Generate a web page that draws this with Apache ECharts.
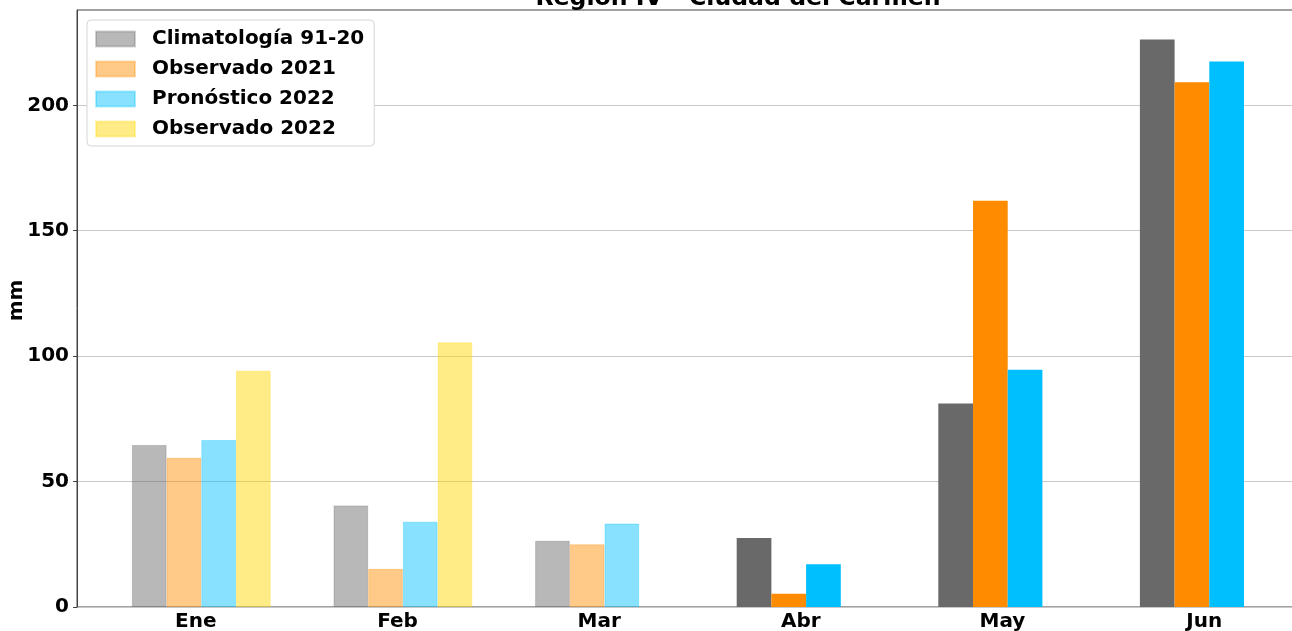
<!DOCTYPE html>
<html>
<head>
<meta charset="utf-8">
<script src="https://cdn.jsdelivr.net/npm/echarts@6/dist/echarts.min.js"></script>
<style>
  html, body { margin: 0; padding: 0; background: #fff; }
  #chartDiv { width: 1292px; height: 631px; }
</style>
</head>
<body>
<div id="chartDiv"></div>
<script>
// Monthly precipitation (mm)
const months = ['Ene', 'Feb', 'Mar', 'Abr', 'May', 'Jun'];
const fadedMonths = ['Ene', 'Feb', 'Mar'];
const climatologia = [64.6, 40.5, 26.4, 27.5, 81.1, 226.2];
const observado2021 = [59.5, 15.2, 25.0, 5.3, 162.0, 209.2];
const pronostico2022 = [66.6, 34.0, 33.3, 17.0, 94.6, 217.5];
const observado2022 = [94.2, 105.5, null, null, null, null];
const yTicks = [0, 50, 100, 150, 200];

const font = 'DejaVu Sans';
const yMax = 238;

// name, data, base colour (rgb)
const seriesDefs = [
  ['Climatología 91-20', climatologia, [105, 105, 105]],
  ['Observado 2021', observado2021, [255, 140, 0]],
  ['Pronóstico 2022', pronostico2022, [0, 191, 255]],
  ['Observado 2022', observado2022, [255, 215, 0]]
];

const rgba = (c, a) => `rgba(${c[0]},${c[1]},${c[2]},${a})`;

const chart = echarts.init(document.getElementById('chartDiv'));

const series = seriesDefs.map(([name, values, c]) => ({
  name: name,
  type: 'bar',
  xAxisIndex: 1,
  yAxisIndex: 1,
  barWidth: 34.7,
  barGap: '0%',
  itemStyle: { color: rgba(c, 0.47), borderColor: rgba(c, 0.3), borderWidth: 1 },
  data: values.map((v, i) => fadedMonths.includes(months[i])
    ? v
    : { value: v, itemStyle: { color: rgba(c, 1), borderWidth: 0 } })
}));

const options = {
  animation: false,
  textStyle: { fontFamily: font },
  title: {
    text: 'Región IV - Ciudad del Carmen',
    left: 733,
    textAlign: 'center',
    top: -18,
    textStyle: { fontFamily: font, fontWeight: 'bold', fontSize: 23.6, color: '#000' }
  },
  legend: {
    orient: 'vertical',
    left: 87,
    top: 20,
    icon: 'rect',
    itemWidth: 39,
    itemHeight: 15,
    itemGap: 10,
    padding: [9, 10, 7, 8],
    backgroundColor: '#fff',
    borderColor: '#d5d5d5',
    borderWidth: 1,
    borderRadius: 4,
    data: seriesDefs.map(d => d[0]),
    textStyle: {
      fontFamily: font, fontWeight: 'bold', fontSize: 20, color: '#000',
      padding: [0, 0, 0, 12]
    }
  },
  grid: [
    // frame, y axis and grid lines
    { left: 77, right: -31, top: 10, bottom: 24, outerBoundsMode: 'none', show: true, borderColor: '#444', borderWidth: 1 },
    // bars
    { left: 100.5, right: -18.1, top: 10, bottom: 24, outerBoundsMode: 'none' },
    // month ticks and labels
    { left: 95, right: -13, top: 10, bottom: 24, outerBoundsMode: 'none' }
  ],
  xAxis: [
    { type: 'value', gridIndex: 0, min: 0, max: 1, show: false },
    { type: 'category', gridIndex: 1, data: months, show: false },
    {
      type: 'category', gridIndex: 2, data: months,
      axisLine: { show: false },
      axisTick: { alignWithLabel: true, length: 4, lineStyle: { color: '#444' } },
      axisLabel: { margin: 5, fontFamily: font, fontWeight: 'bold', fontSize: 20, color: '#000' }
    }
  ],
  yAxis: [
    {
      type: 'value', gridIndex: 0, min: 0, max: yMax, interval: 50,
      name: 'mm', nameLocation: 'middle', nameGap: 50, nameRotate: 90, nameMoveOverlap: false,
      nameTextStyle: { fontFamily: font, fontWeight: 'bold', fontSize: 20, color: '#000', padding: [0, 0, 0, 16] },
      axisLine: { show: true, lineStyle: { color: '#444' } },
      axisTick: { show: true, length: 4, customValues: yTicks, lineStyle: { color: '#444' } },
      axisLabel: {
        margin: 8, customValues: yTicks,
        fontFamily: font, fontWeight: 'bold', fontSize: 20, color: '#000'
      },
      splitLine: { show: true, lineStyle: { color: '#c8c8c8', width: 1 } }
    },
    { type: 'value', gridIndex: 1, min: 0, max: yMax, show: false },
    { type: 'value', gridIndex: 2, min: 0, max: yMax, show: false }
  ],
  series: series
};

chart.setOption(options);
</script>
</body>
</html>
